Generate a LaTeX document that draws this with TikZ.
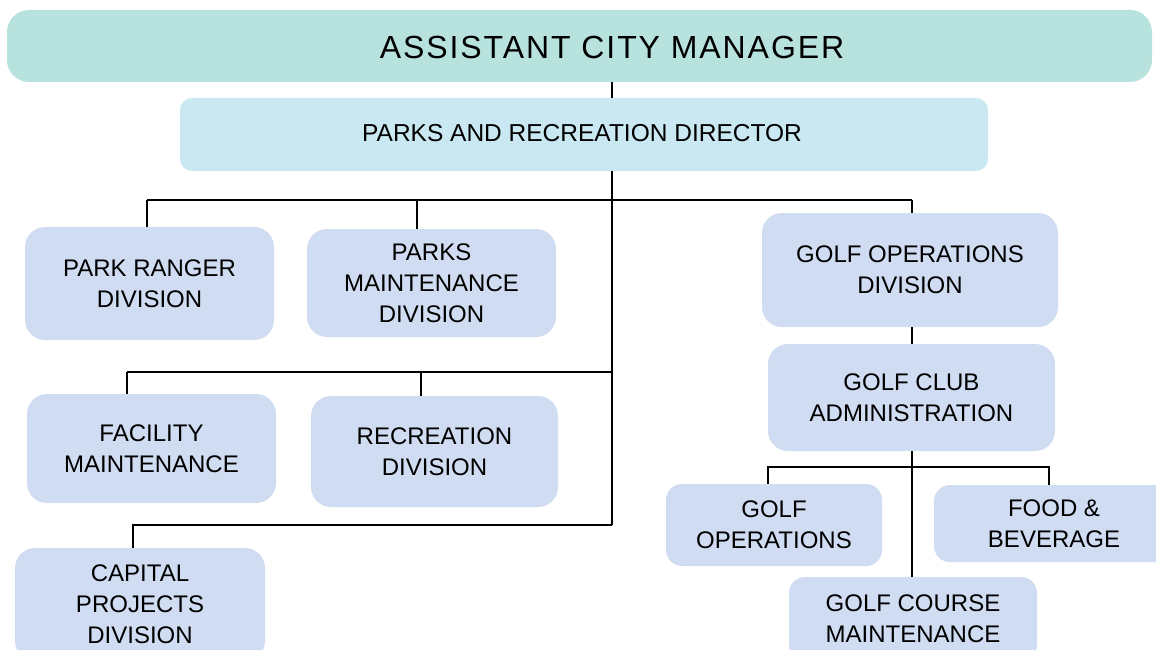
\documentclass[tikz,border=0pt]{standalone}
\usepackage{fontspec}
\setmainfont{Liberation Sans}
\usepackage{tikz}
\usetikzlibrary{positioning}
\definecolor{mgrteal}{HTML}{B8E2DE}
\definecolor{dirblue}{HTML}{C9E8F1}
\definecolor{unitblue}{HTML}{D0DCF1}
\tikzset{unit/.style = {rectangle, rounded corners=20pt, fill=unitblue, align=center,
                        inner sep=0pt, font=\fontsize{24}{31}\selectfont},
         bus/.style  = {line width=2.9pt},
         drop/.style = {line width=1.9pt}}

\begin{document}
\begin{tikzpicture}[x=1pt, y=-1pt]
    \useasboundingbox (0, 0) rectangle (1156, 650);
    \clip (0, 0) rectangle (1156, 650);
    \node [rectangle, rounded corners=22pt, fill=mgrteal, minimum width=1145, minimum height=72] (acm) at (579.5, 46) {};
    \node [font=\fontsize{32}{36}\selectfont\addfontfeature{LetterSpace=6}] at (612, 47) {ASSISTANT CITY MANAGER};
    \node [rectangle, rounded corners=12pt, fill=dirblue, minimum width=808, minimum height=73] (director) at (584, 134.5) {};
    \node [font=\fontsize{24.5}{31}\selectfont] at (582, 133) {PARKS AND RECREATION DIRECTOR};
    \node [unit, minimum width=249, minimum height=113] (ranger) at (149.5, 283.5) {PARK RANGER\\DIVISION};
    \node [unit, minimum width=249, minimum height=108] (parksmaint) at (431.5, 283) {PARKS\\MAINTENANCE\\DIVISION};
    \node [unit, minimum width=249, minimum height=109] (facility) at (151.5, 448.5) {FACILITY\\MAINTENANCE};
    \node [unit, minimum width=247, minimum height=111] (recreation) at (434.5, 451.5) {RECREATION\\DIVISION};
    \node [unit, minimum width=250, minimum height=113] (capital) at (140, 604.5) {CAPITAL\\PROJECTS\\DIVISION};
    \node [unit, minimum width=296, minimum height=114] (golfdiv) at (910, 270) {GOLF OPERATIONS\\DIVISION};
    \node [unit, minimum width=287, minimum height=107] (clubadmin) at (911.5, 397.5) {GOLF CLUB\\ADMINISTRATION};
    \node [unit, minimum width=216, minimum height=82, rounded corners=16pt] (golfops) at (774, 525) {GOLF\\OPERATIONS};
    \node [unit, minimum width=240, minimum height=77, rounded corners=16pt] (food) at (1054, 523.5) {FOOD \&\\BEVERAGE};
    \node [unit, minimum width=248, minimum height=84, rounded corners=16pt] (coursemaint) at (913, 619) {GOLF COURSE\\MAINTENANCE};
    \coordinate (spine) at (612, 525);
    \coordinate (golfspine) at (912, 467);
    \draw [bus] (acm.south -| spine) -- (director.north -| spine);
    \draw [bus] (director.south -| spine) -- (spine);
    \draw [bus] (147, 200) -- (912, 200);
    \draw [drop] (ranger.north -| 147, 0) -- (147, 200);
    \draw [drop] (parksmaint.north -| 417, 0) -- (417, 200);
    \draw [drop] (golfdiv.north -| golfspine) -- (912, 200);
    \draw [bus] (127, 372) -- (612, 372);
    \draw [drop] (facility.north -| 127, 0) -- (127, 372);
    \draw [drop] (recreation.north -| 421, 0) -- (421, 372);
    \draw [bus] (capital.north -| 133, 0) |- (spine);
    \draw [drop] (golfdiv.south -| golfspine) -- (clubadmin.north -| golfspine);
    \draw [bus] (clubadmin.south -| golfspine) -- (coursemaint.north -| golfspine);
    \draw [bus] (golfops.north -| 768, 0) |- (golfspine) -| (food.north -| 1049, 0);
  \end{tikzpicture}
\end{document}
